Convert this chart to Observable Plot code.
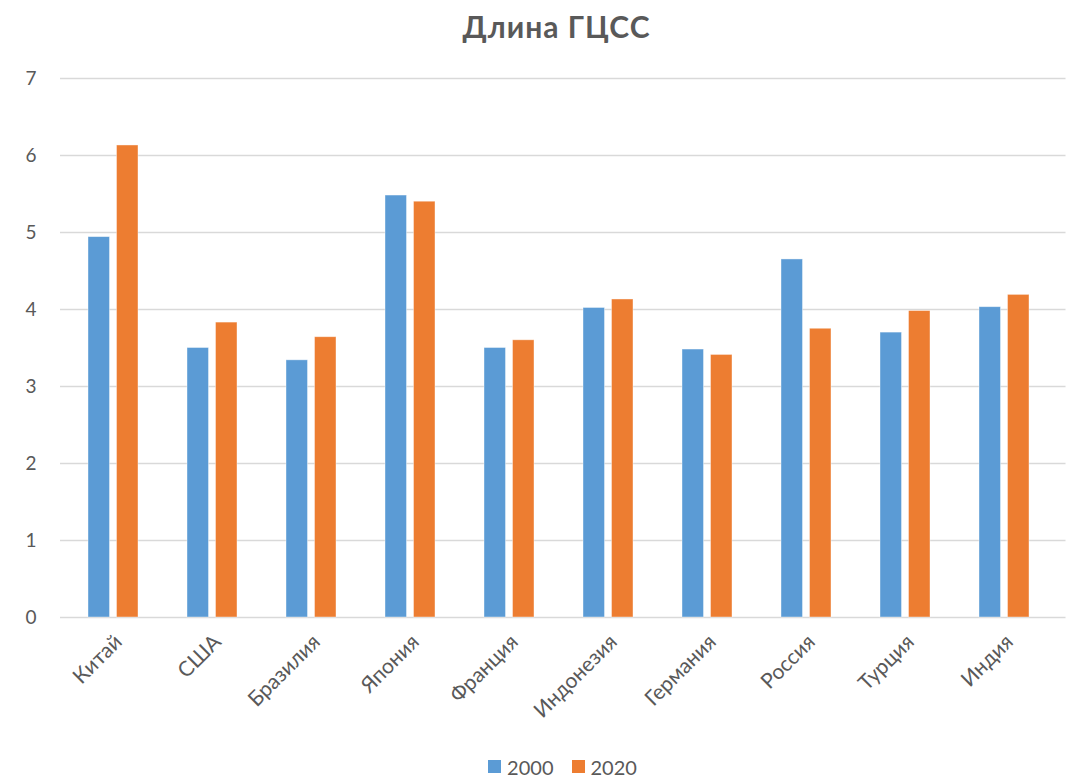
<!DOCTYPE html>
<html>
<head>
<meta charset="utf-8">
<script src="https://cdn.jsdelivr.net/npm/d3@7"></script>
<script src="https://cdn.jsdelivr.net/npm/@observablehq/plot@0.6"></script>
<style>
  html, body { margin: 0; padding: 0; background: #fff; }
  body { width: 1081px; height: 783px; overflow: hidden; font-family: Lato, "Open Sans", sans-serif; color: #595959; }
  #title { height: 50px; line-height: 52px; text-align: center; font-weight: bold; font-size: 30px; letter-spacing: 1px; padding-left: 32px; box-sizing: border-box; }
  #legend { height: 33px; display: flex; justify-content: center; align-items: center; gap: 18px; font-size: 20px; padding-left: 44px; box-sizing: border-box; }
  .item { display: flex; align-items: center; gap: 6px; }
  .sw { width: 13px; height: 13px; display: inline-block; }
</style>
</head>
<body>
<div id="title">Длина ГЦСС</div>
<div id="chart"></div>
<div id="legend"></div>
<script>
const countries = ["Китай","США","Бразилия","Япония","Франция","Индонезия","Германия","Россия","Турция","Индия"];
const years = ["2000","2020"];
const values2000 = [4.94,3.50,3.34,5.48,3.50,4.02,3.48,4.65,3.70,4.03];
const values2020 = [6.13,3.83,3.64,5.40,3.60,4.13,3.41,3.75,3.98,4.19];
const yTicks = [0,1,2,3,4,5,6,7];
const colors = ["#5B9BD5","#ED7D31"];

const rows2000 = countries.map((c, i) => ({country: c, year: years[0], value: values2000[i]}));
const rows2020 = countries.map((c, i) => ({country: c, year: years[1], value: values2020[i]}));

const chart = Plot.plot({
  width: 1081,
  height: 700,
  marginLeft: 60,
  marginRight: 24.5,
  marginTop: 28,
  marginBottom: 133,
  style: {fontFamily: "Lato, 'Open Sans', sans-serif", color: "#595959", background: "#fff"},
  x: {domain: countries, paddingInner: 0.4925, paddingOuter: 0.2538, label: null},
  y: {domain: [0, 7], label: null},
  color: {domain: years, range: colors},
  marks: [
    Plot.ruleY(yTicks, {stroke: "#d9d9d9", strokeWidth: 1.3, insetRight: -9}),
    Plot.barY(rows2000, {x: "country", y: "value", fill: "year", insetRight: 28.5, stroke: "#fff", strokeOpacity: 0.5, strokeWidth: 0.8}),
    Plot.barY(rows2020, {x: "country", y: "value", fill: "year", insetLeft: 28.5, stroke: "#fff", strokeOpacity: 0.5, strokeWidth: 0.8}),
    Plot.axisY({ticks: yTicks, tickFormat: d3.format("d"), tickSize: 0, tickPadding: 24, label: null, fontSize: 19, fill: "#595959"}),
    Plot.axisX({tickRotate: -45, tickSize: 0, tickPadding: 21, dx: 5, label: null, fontSize: 21, fill: "#595959"})
  ]
});
document.getElementById("chart").appendChild(chart);

const legend = document.getElementById("legend");
years.forEach((y, i) => {
  const it = document.createElement("span");
  it.className = "item";
  const sw = document.createElement("span");
  sw.className = "sw";
  sw.style.background = colors[i];
  const t = document.createElement("span");
  t.textContent = y;
  it.appendChild(sw); it.appendChild(t);
  legend.appendChild(it);
});
</script>
</body>
</html>
